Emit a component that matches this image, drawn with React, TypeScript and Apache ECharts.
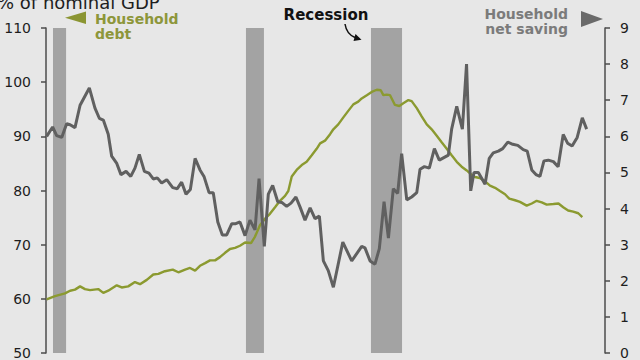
import React, { useEffect, useRef } from "react";
import * as echarts from "echarts";

// Household net saving (% of GDP, right axis): decimal year and value
const savingYears = [
  1990.15, 1990.48, 1990.7, 1990.98, 1991.25, 1991.44, 1991.71, 1991.99, 1992.5, 1992.81,
  1993.05, 1993.27, 1993.54, 1993.73, 1994.01, 1994.24, 1994.52, 1994.78, 1995.01, 1995.25,
  1995.53, 1995.78, 1996.02, 1996.24, 1996.48, 1996.76, 1997.09, 1997.34, 1997.58, 1997.82,
  1998.06, 1998.32, 1998.59, 1998.81, 1999.09, 1999.32, 1999.57, 1999.82, 2000.06, 2000.34,
  2000.56, 2000.79, 2001.07, 2001.34, 2001.62, 2001.84, 2002.13, 2002.35, 2002.59, 2002.87,
  2003.09, 2003.36, 2003.6, 2003.87, 2004.1, 2004.37, 2004.65, 2004.92, 2005.16, 2005.38,
  2005.65, 2005.93, 2006.45, 2006.94, 2007.49, 2007.67, 2007.95, 2008.22, 2008.46, 2008.72,
  2008.96, 2009.23, 2009.47, 2009.69, 2009.97, 2010.24, 2010.52, 2010.7, 2010.94, 2011.21,
  2011.49, 2011.76, 2012.26, 2012.44, 2012.72, 2013.03, 2013.26, 2013.49, 2013.67, 2013.91,
  2014.28, 2014.51, 2014.73, 2015.01, 2015.25, 2015.53, 2015.8, 2016.08, 2016.38, 2016.6,
  2016.85, 2017.08, 2017.3, 2017.52, 2017.76, 2018.04, 2018.3, 2018.58, 2018.82, 2019.07,
  2019.35, 2019.63, 2019.87,
];
const savingValues = [
  6.0, 6.26, 6.02, 5.97, 6.35, 6.32, 6.24, 6.86, 7.34, 6.78,
  6.5, 6.45, 6.06, 5.45, 5.25, 4.94, 5.03, 4.89, 5.12, 5.5,
  5.03, 4.98, 4.82, 4.85, 4.71, 4.8, 4.58, 4.55, 4.73, 4.4,
  4.53, 5.39, 5.07, 4.89, 4.44, 4.44, 3.63, 3.27, 3.27, 3.58,
  3.58, 3.63, 3.25, 3.68, 3.41, 4.83, 2.95, 4.4, 4.64, 4.19,
  4.17, 4.06, 4.15, 4.32, 4.04, 3.68, 4.02, 3.72, 3.79, 2.55,
  2.28, 1.82, 3.07, 2.55, 2.95, 2.91, 2.55, 2.46, 2.89, 4.19,
  3.18, 4.55, 4.42, 5.52, 4.24, 4.32, 4.44, 5.09, 5.16, 5.12,
  5.66, 5.34, 5.48, 6.2, 6.83, 6.2, 8.0, 4.49, 5.0, 5.0,
  4.67, 5.39, 5.54, 5.59, 5.66, 5.84, 5.78, 5.75, 5.63, 5.59,
  5.07, 4.94, 4.89, 5.32, 5.34, 5.3, 5.16, 6.05, 5.81, 5.73,
  5.97, 6.51, 6.2,
];

// Household debt (% of nominal GDP, left axis): decimal year and value
const debtYears = [
  1990.15, 1990.61, 1991.16, 1991.44, 1991.71, 1991.99, 1992.26, 1992.54, 1992.99, 1993.27,
  1993.54, 1994.01, 1994.28, 1994.64, 1995.01, 1995.29, 1995.66, 1996.02, 1996.3, 1996.66,
  1997.09, 1997.4, 1997.77, 1998.04, 1998.32, 1998.59, 1998.87, 1999.14, 1999.42, 1999.69,
  1999.97, 2000.24, 2000.52, 2000.79, 2001.07, 2001.4, 2001.62, 2001.89, 2002.17, 2002.44,
  2002.72, 2002.99, 2003.27, 2003.45, 2003.64, 2003.91, 2004.19, 2004.46, 2004.74, 2005.01,
  2005.2, 2005.47, 2005.75, 2005.93, 2006.2, 2006.48, 2006.75, 2007.03, 2007.3, 2007.49,
  2007.77, 2008.04, 2008.32, 2008.54, 2008.68, 2008.87, 2009.05, 2009.32, 2009.56, 2009.78,
  2010.06, 2010.24, 2010.52, 2010.79, 2011.07, 2011.34, 2011.62, 2011.89, 2012.17, 2012.44,
  2012.72, 2012.99, 2013.27, 2013.54, 2013.72, 2013.99, 2014.28, 2014.55, 2014.83, 2015.1,
  2015.38, 2015.61, 2015.93, 2016.2, 2016.57, 2016.85, 2017.12, 2017.4, 2017.67, 2018.04,
  2018.32, 2018.58, 2018.85, 2019.13, 2019.41, 2019.63,
];
const debtValues = [
  59.9, 60.5, 61.0, 61.5, 61.7, 62.3, 61.8, 61.6, 61.8, 61.1,
  61.5, 62.5, 62.1, 62.3, 63.1, 62.7, 63.5, 64.5, 64.6, 65.1,
  65.4, 64.9, 65.4, 65.7, 65.2, 66.1, 66.6, 67.1, 67.1, 67.7,
  68.5, 69.2, 69.4, 69.8, 70.4, 70.3, 71.5, 73.6, 74.8, 75.7,
  76.9, 78.1, 79.0, 79.9, 82.6, 83.8, 84.7, 85.3, 86.5, 87.7,
  88.7, 89.2, 90.4, 91.3, 92.2, 93.5, 94.7, 95.9, 96.4, 97.0,
  97.6, 98.2, 98.6, 98.5, 97.6, 97.7, 97.6, 95.8, 95.6, 96.1,
  96.7, 96.5, 95.2, 93.7, 92.2, 91.3, 90.1, 88.9, 87.7, 86.5,
  85.3, 84.4, 83.7, 82.9, 82.5, 82.3, 81.7, 80.9, 80.5, 79.9,
  79.3, 78.5, 78.2, 77.9, 77.2, 77.6, 78.1, 77.8, 77.4, 77.5,
  77.6, 76.9, 76.3, 76.1, 75.8, 75.1,
];

// Recession periods (decimal years)
const recessionStarts = [1990.5, 2001.12, 2008.0];
const recessionEnds = [1991.22, 2002.11, 2009.71];

const GREEN = "#8b9a30";
const GREEN_TEXT = "#8d963a";
const GRAY = "#606060";
const GRAY_TEXT = "#7b7b7b";
const BAR = "#a3a3a3";
const AXIS = "#4d4d4d";
const FONT = "DejaVu Sans";

export default function App() {
  const ref = useRef<HTMLDivElement>(null);

  useEffect(() => {
    if (!ref.current) return;
    const chart = echarts.init(ref.current, undefined, { renderer: "svg" });

    const debtData = debtYears.map((y, i) => [y, debtValues[i]]);
    const savingData = savingYears.map((y, i) => [y, savingValues[i]]);
    const areas = recessionStarts.map((s, i) => [{ xAxis: s }, { xAxis: recessionEnds[i] }]);

    const axisCommon = {
      type: "value" as const,
      splitLine: { show: false },
      axisLine: { show: true, lineStyle: { color: AXIS, width: 1.5 } },
      axisTick: { show: true, inside: false, length: 5, lineStyle: { color: AXIS, width: 1.5 } },
    };

    const label = (text: string, x: number, y: number, fill: string, align: string) => ({
      type: "text",
      x,
      y,
      style: {
        text,
        fill,
        font: `bold 14px "${FONT}"`,
        verticalAlign: "middle",
        align,
      },
    });

    chart.setOption({
      animation: false,
      backgroundColor: "#e7e7e7",
      grid: { left: 46, right: 35, top: 28, height: 333 },
      xAxis: {
        type: "value",
        min: 1990.115,
        max: 2020.88,
        show: false,
        splitLine: { show: false },
      },
      yAxis: [
        {
          ...axisCommon,
          position: "left",
          min: 50,
          max: 110,
          interval: 10,
          axisLabel: { color: "#1e1e1e", fontFamily: FONT, fontSize: 14, margin: 15 },
        },
        {
          ...axisCommon,
          position: "right",
          min: 0,
          max: 9,
          interval: 1,
          axisLabel: { color: "#1e1e1e", fontFamily: FONT, fontSize: 14, margin: 15 },
        },
      ],
      series: [
        {
          name: "Household debt",
          type: "line",
          yAxisIndex: 0,
          data: debtData,
          showSymbol: false,
          symbol: "none",
          z: 3,
          lineStyle: { color: GREEN, width: 2.4 },
          markArea: {
            silent: true,
            z: 1,
            itemStyle: { color: BAR },
            data: areas,
          },
        },
        {
          name: "Household net saving",
          type: "line",
          yAxisIndex: 1,
          data: savingData,
          showSymbol: false,
          symbol: "none",
          z: 4,
          lineStyle: { color: GRAY, width: 3 },
        },
      ],
      graphic: [
        {
          type: "text",
          x: -3,
          y: 2,
          style: {
            text: "% of nominal GDP",
            fill: "#1e1e1e",
            font: `18px "${FONT}"`,
            verticalAlign: "middle",
            align: "left",
          },
        },
        {
          type: "polygon",
          shape: { points: [[65, 17.8], [86, 11.5], [86, 24]] },
          style: { fill: "#8b9532" },
        },
        label("Household", 95, 18.5, GREEN_TEXT, "left"),
        label("debt", 95, 34, GREEN_TEXT, "left"),
        {
          type: "text",
          x: 326,
          y: 14.8,
          style: {
            text: "Recession",
            fill: "#111111",
            font: `bold 15px "${FONT}"`,
            verticalAlign: "middle",
            align: "center",
          },
        },
        {
          type: "bezierCurve",
          shape: { x1: 345, y1: 24, x2: 355, y2: 37.5, cpx1: 346.5, cpy1: 34 },
          style: { stroke: "#111111", lineWidth: 1.5, fill: "none" },
        },
        {
          type: "polygon",
          shape: { points: [[361.5, 39.8], [355.5, 34], [353.5, 41]] },
          style: { fill: "#111111" },
        },
        label("Household", 568, 13.5, GRAY_TEXT, "right"),
        label("net saving", 568, 29, GRAY_TEXT, "right"),
        {
          type: "polygon",
          shape: { points: [[603, 19], [581, 11], [581, 27]] },
          style: { fill: "#6a6a6a" },
        },
      ],
    });

    return () => chart.dispose();
  }, []);

  return (
    <div
      ref={ref}
      style={{ position: "fixed", left: 0, top: 0, width: 640, height: 360, background: "#e7e7e7" }}
    />
  );
}
